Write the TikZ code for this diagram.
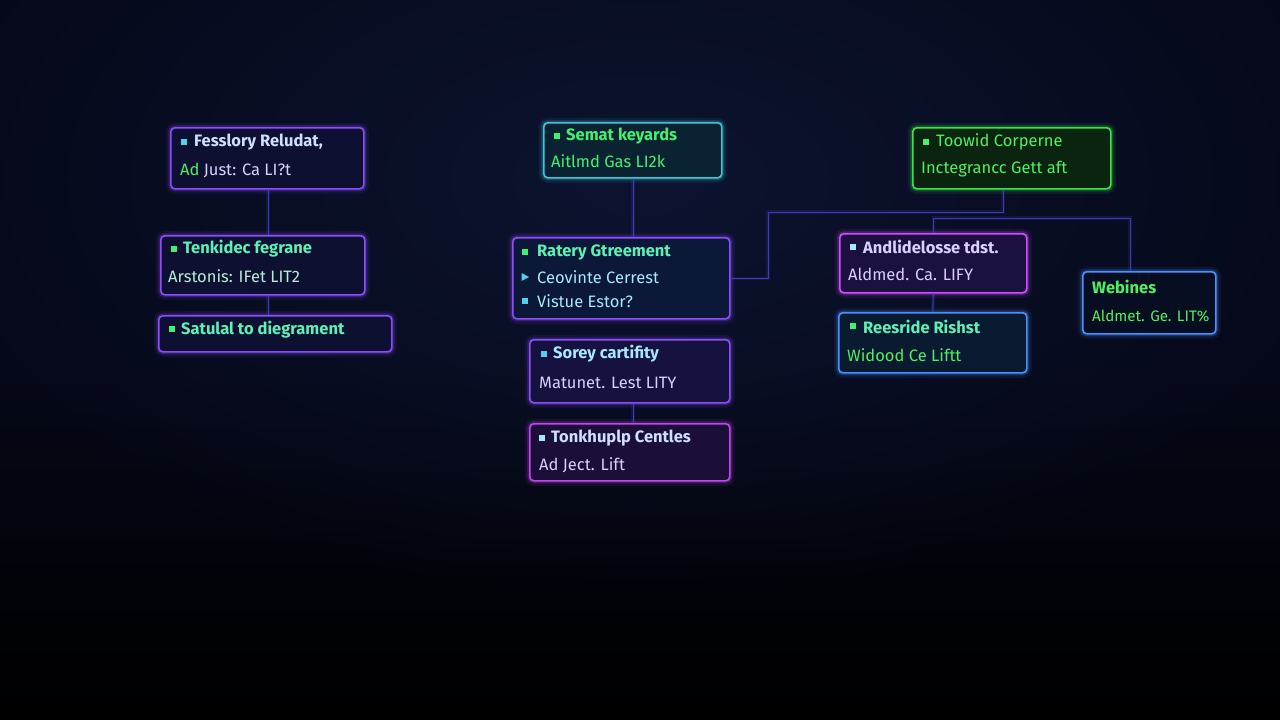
\documentclass[tikz,border=0pt]{standalone}
\usepackage{fontspec}
\setmainfont{Fira Sans}
\usetikzlibrary{calc,fadings}
\tikzfading[name=myglow, inner color=transparent!0, outer color=transparent!100]
\definecolor{bgtop}{HTML}{0D1430}
\definecolor{bgmid}{HTML}{050818}
\definecolor{bgbot}{HTML}{000000}
\definecolor{cviolet}{HTML}{8D4DFF}
\definecolor{cpink}{HTML}{C445F0}
\definecolor{cmag}{HTML}{D24BFF}
\definecolor{cteal}{HTML}{3CC6D8}
\definecolor{cgreen}{HTML}{3AE448}
\definecolor{cblue}{HTML}{4A90FF}
\definecolor{cline}{HTML}{3A3CB8}
\definecolor{tlight}{HTML}{CFE0FF}
\definecolor{tlav}{HTML}{D8D0FF}
\definecolor{tmint}{HTML}{5EF0B4}
\definecolor{tmint2}{HTML}{B4F0D8}
\definecolor{tgreen}{HTML}{44F070}
\definecolor{tgreen2}{HTML}{50F060}
\definecolor{tcyan}{HTML}{A8E8FF}
\definecolor{bcyan}{HTML}{50D0F0}
\definecolor{fnavy}{HTML}{0D1030}
\definecolor{fteal}{HTML}{0A2232}
\definecolor{fblue}{HTML}{0C1838}
\definecolor{fviol}{HTML}{15123F}
\definecolor{fpink}{HTML}{1B0F3A}
\definecolor{fgreen}{HTML}{0A2410}
\definecolor{fmag}{HTML}{1C1040}
\definecolor{fjay}{HTML}{0A1A30}
\definecolor{fkay}{HTML}{070E22}
\tikzset{
  x=1pt, y=-1pt,
  glowbox/.style={draw=#1, line width=1.6pt, rounded corners=4pt, inner sep=0pt, anchor=north west,
    preaction={draw=#1, line width=10pt, draw opacity=0.09},
    preaction={draw=#1, line width=5pt, draw opacity=0.24}},
  tline/.style={anchor=west, inner sep=0pt, font=\fontsize{16.5}{18}\selectfont},
  ttitle/.style={anchor=west, inner sep=0pt, font=\fontsize{16.5}{18}\selectfont\bfseries},
  bul/.style={fill=#1, inner sep=0pt, minimum size=6.5pt},
  conn/.style={draw=cline, line width=1pt,
    preaction={draw=cline, line width=3.5pt, draw opacity=0.2}},
}
\begin{document}
\begin{tikzpicture}
\useasboundingbox (0,0) rectangle (1280,720);
\shade[top color=bgmid, bottom color=bgbot, middle color=bgmid] (0,0) rectangle (1280,720);
\fill[bgtop, path fading=myglow] (640,180) ellipse (760 and 420);

\coordinate (t1) at (1003,212);
\coordinate (t2) at (768,212);
\coordinate (t3) at (933,215);
\coordinate (t4) at (1130,218);

% boxes
\node[glowbox=cviolet, fill=fnavy, minimum width=193pt, minimum height=61pt] (A) at (170,127) {};
\node[glowbox=cviolet, fill=fnavy, minimum width=204pt, minimum height=59pt] (B) at (160,235) {};
\node[glowbox=cviolet, fill=fnavy, minimum width=233pt, minimum height=36pt] (C) at (158,315) {};
\node[glowbox=cteal, fill=fteal, minimum width=178pt, minimum height=55pt] (D) at (543,122) {};
\node[glowbox=cviolet, fill=fblue, minimum width=217pt, minimum height=81pt] (E) at (512,237) {};
\node[glowbox=cviolet, fill=fviol, minimum width=200pt, minimum height=63pt] (F) at (529,339) {};
\node[glowbox=cpink, fill=fpink, minimum width=200pt, minimum height=57pt] (G) at (529,423) {};
\node[glowbox=cgreen, fill=fgreen, minimum width=198pt, minimum height=61pt] (H) at (912,127) {};
\node[glowbox=cmag, fill=fmag, minimum width=187pt, minimum height=59pt] (I) at (839,233) {};
\node[glowbox=cblue, fill=fjay, minimum width=188pt, minimum height=60pt] (J) at (838,312) {};
\node[glowbox=cblue, fill=fkay, minimum width=133pt, minimum height=62pt] (K) at (1082,271) {};

\coordinate (ax) at (268,0);
\coordinate (dx) at (633,0);
% connectors
\draw[conn] (ax |- A.south) -- (ax |- B.north);
\draw[conn] (ax |- B.south) -- (ax |- C.north);
\draw[conn] (dx |- D.south) -- (dx |- E.north);
\draw[conn] (dx |- F.south) -- (dx |- G.north);
\draw[conn] (I.south) -- (J.north);
\draw[conn] (t1 |- H.south) -- (t1) -- (t2) |- (E.east);
\draw[conn] (I.north) |- (t4) -- (t4 |- K.north);

% texts A
\node[bul=bcyan] (Ab) at (184,142) {};
\node[ttitle, text=tlight] (At) at (194,142) {Fesslory Reludat,};
\node[tline, text=tlav] (Al) at (180,170) {\textcolor{tgreen2}{Ad} Just: Ca LI?t};
% B
\node[bul=tgreen] (Bb) at (174,249) {};
\node[ttitle, text=tmint] (Bt) at (183,249) {Tenkidec fegrane};
\node[tline, text=tmint2] (Bl) at (168,276) {Arstonis: IFet LIT2};
% C
\node[bul=tgreen] (Cb) at (172,329) {};
\node[ttitle, text=tmint] (Ct) at (181,330) {Satulal to diegrament};
% D
\node[bul=tgreen] (Db) at (557,136) {};
\node[ttitle, text=tgreen] (Dt) at (566,136) {Semat keyards};
\node[tline, text=tgreen] (Dl) at (551,161) {Aitlmd Gas LI2k};
% E
\node[bul=tgreen] (Eb1) at (525,252) {};
\node[ttitle, text=tmint] (Et1) at (537,252) {Ratery Gtreement};
\coordinate (Eb2) at (525,277);
\fill[bcyan] (Eb2) ++(-3.5,-4) -- ++(7.5,4) -- ++(-7.5,4) -- cycle;
\node[tline, text=tcyan] (Et2) at (537,277) {Ceovinte Cerrest};
\node[bul=bcyan] (Eb3) at (525,301) {};
\node[tline, text=tcyan] (Et3) at (537,301) {Vistue Estor?};
% F
\node[bul=bcyan] (Fb) at (544,354) {};
\node[ttitle, text=tcyan] (Ft) at (553,354) {Sorey cartifity};
\node[tline, text=tlav] (Fl) at (539,383) {Matunet. Lest LITY};
% G
\node[bul=tcyan] (Gb) at (542,438) {};
\node[ttitle, text=tlight] (Gt) at (551,438) {Tonkhuplp Centles};
\node[tline, text=tlav] (Gl) at (539,465) {Ad Ject. Lift};
% H
\node[bul=tgreen] (Hb) at (926,142) {};
\node[tline, text=tgreen2] (Ht) at (936,142) {Toowid Corperne};
\node[tline, text=tgreen2] (Hl) at (921,169) {Inctegrancc Gett aft};
% I
\node[bul=tcyan] (Ib) at (853,247) {};
\node[ttitle, text=tlav] (It) at (863,247) {Andlidelosse tdst.};
\node[tline, text=tlav] (Il) at (848,274) {Aldmed. Ca. LIFY};
% J
\node[bul=tgreen] (Jb) at (853,326) {};
\node[ttitle, text=tmint] (Jt) at (863,327) {Reesride Rishst};
\node[tline, text=tgreen2] (Jl) at (847,355) {Widood Ce Liftt};
% K
\node[ttitle, text=tgreen2] (Kt) at (1092,287) {Webines};
\node[tline, text=tgreen2, font=\fontsize{15.2}{17}\selectfont] (Kl) at (1092,316) {Aldmet. Ge. LIT\%};
\end{tikzpicture}
\end{document}
